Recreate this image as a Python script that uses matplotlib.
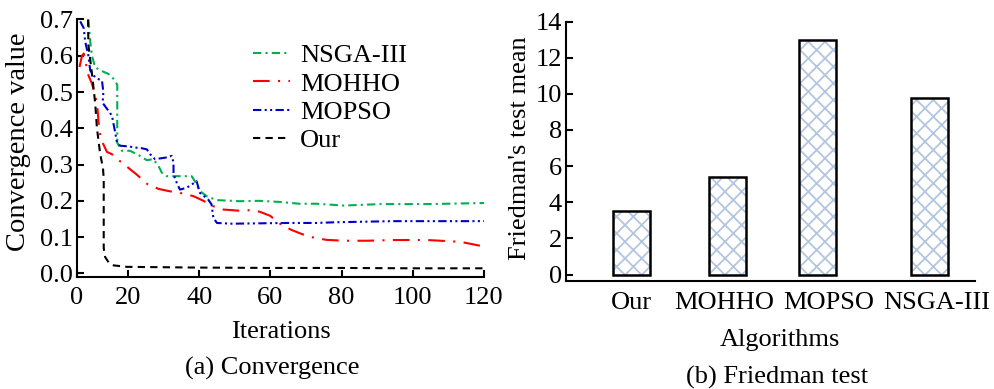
import matplotlib
matplotlib.use("Agg")
import matplotlib.pyplot as plt

plt.rcParams["font.family"] = ["Liberation Serif", "DejaVu Serif"]
plt.rcParams["font.size"] = 19
plt.rcParams["hatch.linewidth"] = 1.3

# (a) convergence curves
iter_our = [8.8, 8.9, 9.4, 9.9, 10.8, 11.3, 12.2, 13.0, 13.2, 13.2, 13.6, 14.6, 16.0, 19.7,
            40, 60, 80, 100, 120]
conv_our = [0.70, 0.63, 0.59, 0.55, 0.47, 0.40, 0.33, 0.29, 0.26, 0.07, 0.045, 0.03, 0.022, 0.018,
            0.016, 0.015, 0.015, 0.014, 0.014]

iter_nsga = [8.9, 9.4, 9.9, 10.8, 13.1, 14.5, 15.9, 17.0, 17.0, 18.3, 20.6, 23.4, 25.3, 27.1,
             28.6, 29.5, 30.9, 33.7, 37.9, 38.8, 40.2, 42.1, 44.9, 51.4, 57.0, 62.6, 68.2,
             72.9, 80.6, 90.9, 104, 120]
conv_nsga = [0.70, 0.64, 0.60, 0.568, 0.556, 0.55, 0.537, 0.52, 0.36, 0.338, 0.338, 0.324,
             0.312, 0.315, 0.296, 0.278, 0.268, 0.268, 0.268, 0.254, 0.227, 0.213, 0.202,
             0.199, 0.2, 0.197, 0.192, 0.192, 0.187, 0.191, 0.191, 0.194]

iter_mohho = [6.4, 7.1, 7.6, 8.9, 9.9, 11.3, 12.0, 13.0, 14.1, 16.0, 17.7, 20.0, 22.4, 25.6,
              28.6, 31.4, 34.6, 38.4, 41.2, 44.0, 46.8, 51.0, 54.1, 57.0, 59.9, 63.1, 65.9,
              68.7, 71.5, 75.7, 80.6, 87.2, 94.7, 104, 113.4, 119]
conv_mohho = [0.569, 0.60, 0.606, 0.546, 0.523, 0.47, 0.39, 0.358, 0.335, 0.326, 0.31, 0.292,
              0.273, 0.245, 0.233, 0.227, 0.222, 0.213, 0.2, 0.185, 0.176, 0.173, 0.174, 0.17,
              0.159, 0.134, 0.12, 0.109, 0.1, 0.0925, 0.09, 0.09, 0.092, 0.092, 0.087, 0.076]

iter_mopso = [6.6, 7.6, 8.0, 8.9, 9.4, 10.3, 11.3, 12.7, 13.1, 12.9, 14.1, 15.5, 16.4, 16.9,
              17.8, 20.2, 22.0, 23.9, 25.3, 26.2, 27.6, 30.5, 32.3, 32.8, 32.8, 33.7, 34.6,
              36.5, 37.9, 39.3, 40.2, 42.5, 43.5, 43.8, 44.0, 45.0, 49.2, 57.0, 64.4, 72.9,
              78.5, 94.7, 120]
conv_mopso = [0.695, 0.676, 0.639, 0.60, 0.56, 0.546, 0.537, 0.532, 0.50, 0.47, 0.454, 0.435,
              0.39, 0.362, 0.352, 0.35, 0.347, 0.345, 0.342, 0.329, 0.315, 0.319, 0.324, 0.306,
              0.273, 0.25, 0.231, 0.236, 0.245, 0.254, 0.222, 0.204, 0.19, 0.167, 0.153, 0.139,
              0.137, 0.138, 0.139, 0.139, 0.141, 0.144, 0.144]

# (b) Friedman test
algoritmos = ["Our", "MOHHO", "MOPSO", "NSGA-III"]
friedman_mean = [3.53, 5.42, 12.98, 9.79]

fig = plt.figure(figsize=(9.95, 3.89), dpi=100)

# --- (a) Convergence ---
ax1 = fig.add_axes([0.0774, 0.2879, 0.409, 0.6620])
ax1.plot(iter_nsga, conv_nsga, color="#00b050", lw=1.5, dashes=(4, 2, 1, 2), label="NSGA-III")
ax1.plot(iter_mohho, conv_mohho, color="#ff0000", lw=1.5, dashes=(8, 4, 1, 4), label="MOHHO")
ax1.plot(iter_mopso, conv_mopso, color="#0000cc", lw=1.5,
         dashes=(4, 1.6, 1, 1.6, 1, 1.6), label="MOPSO")
ax1.plot(iter_our, conv_our, color="black", lw=1.5, dashes=(3.5, 2.5), label="Our")

ax1.set_xlim(5.7, 120)
ax1.set_ylim(-0.01, 0.7)
ax1.set_xticks([5.7, 20, 40, 60, 80, 100, 120])
ax1.set_xticklabels(["0", "20", "40", "60", "80", "100", "120"])
ax1.set_yticks([0, 0.1, 0.2, 0.3, 0.4, 0.5, 0.6, 0.7])
ax1.set_yticklabels(["0.0", "0.1", "0.2", "0.3", "0.4", "0.5", "0.6", "0.7"])
ax1.tick_params(direction="in", length=5, width=1.5, pad=3)
ax1.tick_params(axis="x", pad=7)
for s in ["top", "right"]:
    ax1.spines[s].set_visible(False)
for s in ["left", "bottom"]:
    ax1.spines[s].set_linewidth(1.5)

ax1.set_xlabel("Iterations", va="center")
ax1.xaxis.set_label_coords(0.5, -0.2136)
ax1.set_ylabel("Convergence value", va="center", fontsize=20.5)
ax1.yaxis.set_label_coords(-0.145, 0.525)

ax1.legend(loc="upper left", bbox_to_anchor=(0.432, 0.905), frameon=False,
           handlelength=1.4, handletextpad=0.4, labelspacing=0.18,
           borderpad=0, borderaxespad=0)

# --- (b) Friedman test ---
ax2 = fig.add_axes([0.5688, 0.2776, 0.411, 0.6671])
pos_barras = [0.72, 1.777, 2.767, 4.0]
pos_rotulos = [0.726, 1.744, 2.89, 4.08]
# hachura azul clara + contorno preto por cima
ax2.bar(pos_barras, friedman_mean, width=0.407, color="white", edgecolor="#b3c6e0",
        linewidth=0, hatch="xx")
ax2.bar(pos_barras, friedman_mean, width=0.407, fill=False, edgecolor="black",
        linewidth=1.8)
ax2.set_xlim(0, 4.5)
ax2.set_ylim(-0.36, 14)
ax2.set_yticks([0, 2, 4, 6, 8, 10, 12, 14])
ax2.set_xticks(pos_rotulos)
ax2.set_xticklabels(algoritmos)
ax2.tick_params(axis="y", direction="in", length=5, width=1.5, pad=3)
ax2.tick_params(axis="x", length=0, pad=8)
for s in ["top", "right"]:
    ax2.spines[s].set_visible(False)
for s in ["left", "bottom"]:
    ax2.spines[s].set_linewidth(1.5)

ax2.set_xlabel("Algorithms", va="center")
ax2.xaxis.set_label_coords(0.523, -0.227)
ax2.set_ylabel("Friedman's test mean", va="center")
ax2.yaxis.set_label_coords(-0.1125, 0.5125)

fig.text(272 / 995, 1 - 368 / 389, "(a) Convergence", ha="center", va="center")
fig.text(776.7 / 995, 1 - 377 / 389, "(b) Friedman test", ha="center", va="center")

fig.savefig("out.png", dpi=100)
